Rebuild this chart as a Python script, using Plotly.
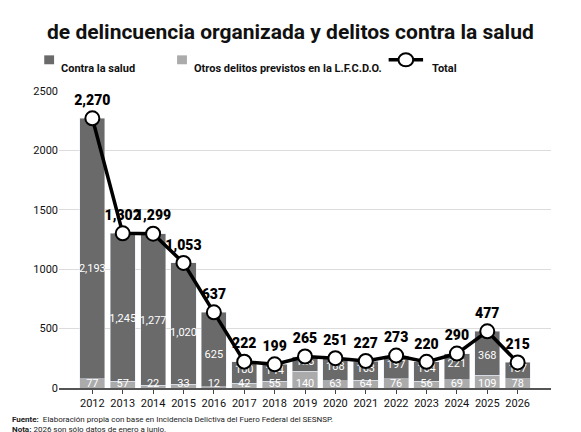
import plotly.graph_objects as go

years = [str(y) for y in range(2012, 2027)]
salud = [2193, 1245, 1277, 1020, 625, 180, 144, 125, 188, 163, 197, 164, 221, 368, 137]
otros = [77, 57, 22, 33, 12, 42, 55, 140, 63, 64, 76, 56, 69, 109, 78]
total = [2270, 1302, 1299, 1053, 637, 222, 199, 265, 251, 227, 273, 220, 290, 477, 215]

DARK = "#6a6a6a"
LIGHT = "#ababab"

fig = go.Figure()
fig.add_trace(go.Bar(x=years, y=otros, name="Otros delitos previstos en la L.F.C.D.O.",
                     marker_color=LIGHT, showlegend=False))
fig.add_trace(go.Bar(x=years, y=salud, name="Contra la salud", marker_color=DARK,
                     showlegend=False))

# value labels inside the bars
fig.add_trace(go.Scatter(x=years, y=[30] * len(years), mode="text",
                         text=[str(v) for v in otros],
                         textfont=dict(color="white", size=11, family="Roboto"),
                         showlegend=False, hoverinfo="skip"))
fig.add_trace(go.Scatter(x=years, y=[o + s * 0.42 if s > 300 else o + s * 0.6 for o, s in zip(otros, salud)],
                         mode="text", text=[f"{v:,}" for v in salud],
                         textfont=dict(color="white", size=11, family="Roboto"),
                         showlegend=False, hoverinfo="skip"))

fig.add_trace(go.Scatter(x=years, y=total, mode="lines+markers+text", name="Total",
                         line=dict(color="black", width=3.5),
                         marker=dict(size=14, color="white", line=dict(color="black", width=2)),
                         text=[f"{v:,}" for v in total], textposition="top center",
                         textfont=dict(size=14, color="black", family="Roboto Black, Roboto"),
                         showlegend=False))

# legend drawn by hand
leg_font = dict(size=11, family="Roboto", color="#111")
fig.add_shape(type="rect", xref="paper", yref="paper", x0=-0.03, x1=-0.01, y0=1.09, y1=1.12,
              fillcolor=DARK, line_width=0)
fig.add_annotation(xref="paper", yref="paper", x=0.0, y=1.105, text="<b>Contra la salud</b>",
                   showarrow=False, xanchor="left", font=leg_font)
fig.add_shape(type="rect", xref="paper", yref="paper", x0=0.24, x1=0.26, y0=1.09, y1=1.12,
              fillcolor=LIGHT, line_width=0)
fig.add_annotation(xref="paper", yref="paper", x=0.27, y=1.105,
                   text="<b>Otros delitos previstos en la L.F.C.D.O.</b>",
                   showarrow=False, xanchor="left", font=leg_font)
fig.add_shape(type="line", xref="paper", yref="paper", x0=0.67, x1=0.74, y0=1.105, y1=1.105,
              line=dict(color="black", width=3.5))
fig.add_shape(type="circle", xref="paper", yref="paper", x0=0.69, x1=0.72, y0=1.083, y1=1.127,
              fillcolor="white", line=dict(color="black", width=2))
fig.add_annotation(xref="paper", yref="paper", x=0.755, y=1.105, text="<b>Total</b>",
                   showarrow=False, xanchor="left", font=leg_font)

fig.add_annotation(xref="paper", yref="paper", x=0.47, y=1.245,
                   text="<b>de delincuencia organizada y delitos contra la salud</b>",
                   showarrow=False, font=dict(size=21, family="Roboto", color="#111"))
fig.add_annotation(xref="paper", yref="paper", x=-0.1, y=-0.16, xanchor="left", align="left",
                   text="<b>Fuente:</b>  Elaboración propia con base en Incidencia Delictiva del Fuero Federal del SESNSP.<br><b>Nota:</b> 2026 son sólo datos de enero a junio.",
                   showarrow=False, font=dict(size=8, family="Roboto", color="#222"))

fig.update_layout(
    width=581, height=432, barmode="stack", bargap=0.17,
    margin=dict(l=51, r=38, t=83, b=52),
    plot_bgcolor="white", paper_bgcolor="white",
    font=dict(family="Roboto", color="#111"),
)
fig.update_yaxes(range=[0, 2500], dtick=500, gridcolor="#dcdcdc", showline=False,
                 tickfont=dict(size=11), zeroline=False, automargin=False)
fig.update_xaxes(showline=True, linecolor="#555", linewidth=1.5, ticks="outside",
                 tickfont=dict(size=11), ticklen=4, automargin=False)

fig.write_html("out.html")
